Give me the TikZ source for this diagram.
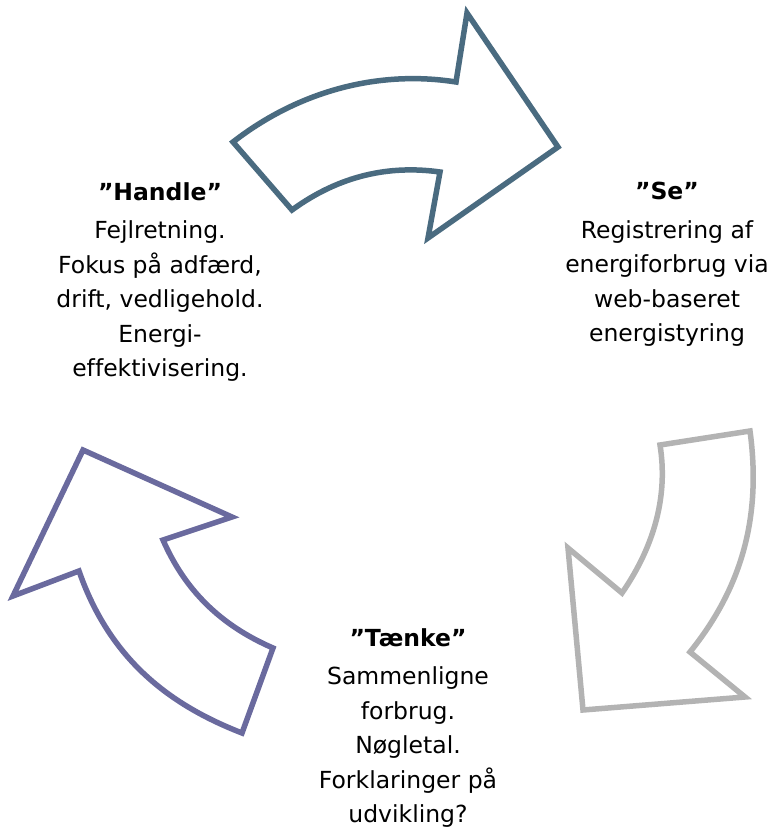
\documentclass[tikz,border=0pt]{standalone}
\usepackage{fontspec}
\setmainfont[Ligatures=NoCommon]{DejaVu Sans}
\begin{document}
\begin{tikzpicture}[x=1pt,y=-1pt,
  arr/.style={line width=5.5pt, line join=miter, fill=white},
  lbl/.style={align=center, font=\fontsize{23.5}{34.5}\selectfont, anchor=north, inner sep=0pt}]
\useasboundingbox (0,0) rectangle (771,830);
% top arrow
\draw[arr, draw={rgb,255:red,74;green,107;blue,128}]
  (233,142) .. controls (300,90) and (380,70) .. (456,82)
  -- (467,13) -- (558,147) -- (428,238) -- (440,172)
  .. controls (390,165) and (340,175) .. (292,210) -- cycle;
% right arrow
\draw[arr, draw={rgb,255:red,179;green,179;blue,179}]
  (660,445) -- (750,431)
  .. controls (762,520) and (740,590) .. (690,652)
  -- (745,697) -- (583,710) -- (568,548) -- (622,593)
  .. controls (655,545) and (668,495) .. (660,445) -- cycle;
% left arrow
\draw[arr, draw={rgb,255:red,106;green,106;blue,158}]
  (242,733) -- (273,648)
  .. controls (220,625) and (185,590) .. (163,540)
  -- (232,517) -- (83,450) -- (13,596) -- (79,571)
  .. controls (110,660) and (170,705) .. (242,733) -- cycle;
% texts
\node[lbl] (handle) at (160,182) {\textbf{”Handle”}\\[4pt]Fejlretning.\\Fokus på adfærd,\\drift, vedligehold.\\Energi-\\effektivisering.};
\node[lbl] (se) at (667,182) {\textbf{”Se”}\\[4pt]Registrering af\\energiforbrug via\\web-baseret\\energistyring};
\node[lbl] (taenke) at (408,628) {\textbf{”Tænke”}\\[4pt]Sammenligne\\forbrug.\\Nøgletal.\\Forklaringer på\\udvikling?};
\end{tikzpicture}
\end{document}
